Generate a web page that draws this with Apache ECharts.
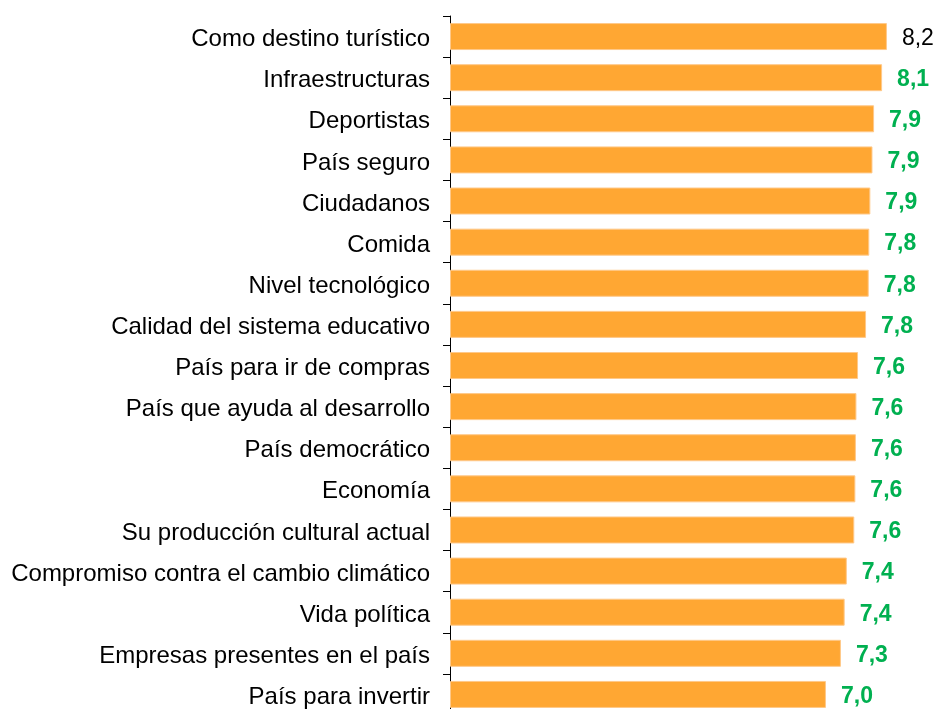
<!DOCTYPE html>
<html>
<head>
<meta charset="utf-8">
<script src="https://cdn.jsdelivr.net/npm/echarts@6/dist/echarts.min.js"></script>
<style>
  html, body { margin: 0; padding: 0; background: #fff; }
  #container { width: 940px; height: 709px; }
</style>
</head>
<body>
<div id="container"></div>
<script>
var dom = document.getElementById('container');
var myChart = echarts.init(dom, null, { renderer: 'canvas' });

const categories = [
  'Como destino turístico',
  'Infraestructuras',
  'Deportistas',
  'País seguro',
  'Ciudadanos',
  'Comida',
  'Nivel tecnológico',
  'Calidad del sistema educativo',
  'País para ir de compras',
  'País que ayuda al desarrollo',
  'País democrático',
  'Economía',
  'Su producción cultural actual',
  'Compromiso contra el cambio climático',
  'Vida política',
  'Empresas presentes en el país',
  'País para invertir'
];
const values = [8.17, 8.08, 7.93, 7.90, 7.86, 7.84, 7.83, 7.78, 7.63, 7.60, 7.59, 7.58, 7.56, 7.42, 7.38, 7.31, 7.03];

const FONT = '"Liberation Sans", Arial, sans-serif';

// first label is plain black, the rest bold green
const barData = values.map(function (v, i) {
  return {
    value: v,
    label: i === 0
      ? { color: '#000', fontWeight: 'normal' }
      : { color: '#00B050', fontWeight: 'bold' }
  };
});

var option = {
  animation: false,
  grid: {
    left: 450,
    top: 16,
    right: 8.7,
    height: 699,
    outerBoundsMode: 'none'
  },
  xAxis: {
    type: 'value',
    min: 0,
    max: 9,
    show: false
  },
  yAxis: {
    type: 'category',
    inverse: true,
    data: categories,
    axisLine: { show: true, lineStyle: { color: '#000', width: 1 } },
    axisTick: { show: true, length: 7, lineStyle: { color: '#000', width: 1 } },
    axisLabel: {
      margin: 20,
      color: '#000',
      fontSize: 24,
      fontFamily: FONT,
      verticalAlign: 'top',
      lineHeight: 6
    },
    splitLine: { show: false }
  },
  series: [{
    type: 'bar',
    data: barData,
    barWidth: 27,
    itemStyle: {
      color: '#FFA733',
      borderColor: '#FFC98A',
      borderWidth: 1
    },
    label: {
      show: true,
      position: 'right',
      distance: 15,
      fontSize: 23,
      fontFamily: FONT,
      verticalAlign: 'top',
      lineHeight: 4,
      formatter: function (p) {
        return p.value.toFixed(1).replace('.', ',');
      }
    }
  }]
};

myChart.setOption(option);
window.addEventListener('resize', myChart.resize);
</script>
</body>
</html>
